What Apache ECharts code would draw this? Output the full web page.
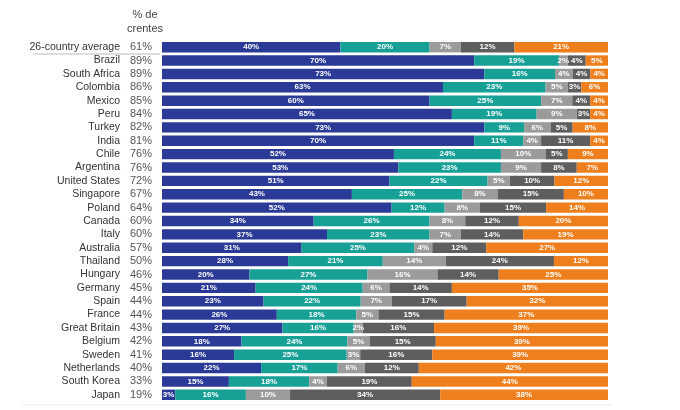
<!DOCTYPE html>
<html>
<head>
<meta charset="utf-8">
<script src="https://cdn.jsdelivr.net/npm/echarts@6/dist/echarts.min.js"></script>
<style>html,body{margin:0;padding:0;background:#fff}#c{width:680px;height:410px}</style>
</head>
<body>
<div id="c"></div>
<script>
var categories = ["26-country average","Brazil","South Africa","Colombia","Mexico","Peru","Turkey","India","Chile","Argentina","United States","Singapore","Poland","Canada","Italy","Australia","Thailand","Hungary","Germany","Spain","France","Great Britain","Belgium","Sweden","Netherlands","South Korea","Japan"];
var totals = [61,89,89,86,85,84,82,81,76,76,72,67,64,60,60,57,50,46,45,44,44,43,42,41,40,33,19];
var s1 = [40,70,73,63,60,65,73,70,52,53,51,43,52,34,37,31,28,20,21,23,26,27,18,16,22,15,3];
var s2 = [20,19,16,23,25,19,9,11,24,23,22,25,12,26,23,25,21,27,24,22,18,16,24,25,17,18,16];
var s3 = [7,2,4,5,7,9,6,4,10,9,5,8,8,8,7,4,14,16,6,7,5,2,5,3,6,4,10];
var s4 = [12,4,4,3,4,3,5,11,5,8,10,15,15,12,14,12,24,14,14,17,15,16,15,16,12,19,34];
var s5 = [21,5,4,6,4,4,8,4,9,7,12,10,14,20,19,27,12,25,35,32,37,39,39,39,42,44,38];
var seriesNames = ["s1","s2","s3","s4","s5"];
var colors = ["#2b3a96","#16a096","#9b9b9b","#5e5e5e","#ef7f1c"];

var all = [s1,s2,s3,s4,s5];
// each row is drawn as a share of its own total (rounded values may sum to 99-101)
var rowSum = categories.map(function(_, r){ return all.reduce(function(a, s){ return a + s[r]; }, 0); });

var chart = echarts.init(document.getElementById('c'), null, {renderer:'canvas'});
var font = '"Liberation Sans", Arial, sans-serif';
function mk(i, data){
  return {
    name: seriesNames[i], type:'bar', stack:'all',
    data: data.map(function(v, r){ return {value: v * 100 / rowSum[r], raw: v}; }),
    barCategoryGap:'22%',
    itemStyle:{color:colors[i]},
    label:{show:true, position:'inside', formatter:function(p){ return p.data.raw + '%'; },
      color:'#fff', fontSize:8, fontWeight:'bold', fontFamily:font},
    emphasis:{disabled:true}
  };
}
chart.setOption({
  animation:false,
  textStyle:{fontFamily:font},
  title:{text:'% de\ncrentes', left:140, top:3, textAlign:'center',
    textStyle:{fontSize:11, fontWeight:'normal', color:'#444', lineHeight:14, fontFamily:font}},
  grid:{left:162, right:72, top:40.5, bottom:8.5, containLabel:false},
  xAxis:{type:'value', min:0, max:100, show:false},
  yAxis:{type:'category', inverse:true, data:categories,
    axisLine:{show:false}, axisTick:{show:false},
    axisLabel:{margin:10, interval:0,
      formatter:function(v, idx){ return '{n|'+v+'}{p|'+totals[idx]+'%}'; },
      rich:{n:{fontSize:10.5, color:'#333', fontFamily:font},
            p:{fontSize:11, color:'#555', width:32, align:'right', fontFamily:font}}}
  },
  graphic:[
    {type:'line', shape:{x1:33,y1:54,x2:160,y2:54}, style:{stroke:'#bbb', lineWidth:1}},
    {type:'line', shape:{x1:22,y1:405,x2:612,y2:405}, style:{stroke:'#ececec', lineWidth:1}}
  ],
  series:[mk(0,s1),mk(1,s2),mk(2,s3),mk(3,s4),mk(4,s5)]
});
</script>
</body>
</html>
